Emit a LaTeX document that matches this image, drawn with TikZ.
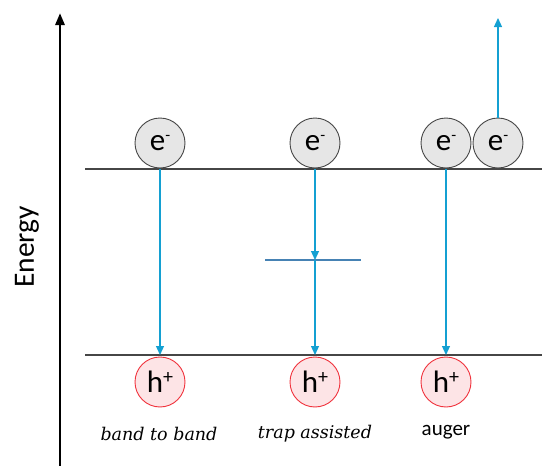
\documentclass[tikz,border=0pt]{standalone}
\usepackage{fontspec}
\setmainfont{Carlito}
\newfontfamily\labserif{DejaVu Serif}
\usetikzlibrary{arrows.meta}
\definecolor{arrowcyan}{RGB}{20,160,210}
\definecolor{trapblue}{RGB}{70,130,180}
\definecolor{bandgray}{RGB}{70,70,70}
\definecolor{efill}{RGB}{230,230,230}
\definecolor{hfill}{RGB}{253,228,230}
\definecolor{hborder}{RGB}{240,50,60}
\tikzset{
  electron/.style={circle, draw=bandgray, fill=efill, line width=0.9pt, minimum size=50pt, inner sep=0pt, font=\fontsize{31}{33}\selectfont},
  hole/.style={circle, draw=hborder, fill=hfill, line width=0.9pt, minimum size=50pt, inner sep=0pt, font=\fontsize{31}{33}\selectfont},
  band/.style={draw=bandgray, line width=1.1pt},
  trans/.style={draw=arrowcyan, line width=1.2pt, -{Triangle[length=9pt,width=8pt]}},
  caplabel/.style={font=\labserif\itshape\fontsize{17.5}{19}\selectfont},
}
\newcommand{\elec}{e\raisebox{0.35em}{\fontsize{16}{16}\selectfont -}}
\newcommand{\hol}{h\raisebox{0.3em}{\fontsize{20}{20}\selectfont +}}
\begin{document}
\begin{tikzpicture}[x=1pt,y=-1pt]
\useasboundingbox (0,0) rectangle (542,466);
% axis
\coordinate (axb) at (60,466);
\coordinate (axt) at (60,13);
\draw[line width=2.8pt, -{Triangle[length=12pt,width=9pt]}] (axb) -- (axt);
\node[rotate=90, font=\fontsize{29.5}{31}\selectfont] (energy) at (27,247) {Energy};
% bands
\coordinate (cbl) at (85,169);
\coordinate (cbr) at (542,169);
\coordinate (vbl) at (85,355);
\coordinate (vbr) at (542,355);
\draw[band] (cbl) -- (cbr);
\draw[band] (vbl) -- (vbr);
% trap level
\coordinate (tl) at (265,260);
\coordinate (tr) at (361,260);
\draw[draw=trapblue, line width=1.1pt] (tl) -- (tr);
% electrons
\node[electron] (e1) at (160,143) {\elec};
\node[electron] (e2) at (315,143) {\elec};
\node[electron] (e3) at (446,143) {\elec};
\node[electron] (e4) at (498,143) {\elec};
% holes
\node[hole] (h1) at (160,382) {\hol};
\node[hole] (h2) at (315,382) {\hol};
\node[hole] (h3) at (446,382) {\hol};
% transitions
\coordinate (c1) at (160,169);
\coordinate (c2) at (315,169);
\coordinate (c3) at (446,169);
\coordinate (v1) at (160,355);
\coordinate (v2) at (315,355);
\coordinate (v3) at (446,355);
\coordinate (t2) at (315,260);
\coordinate (up) at (498,18);
\draw[trans] (c1) -- (v1);
\draw[trans] (c2) -- (t2);
\draw[trans] (t2) -- (v2);
\draw[trans] (c3) -- (v3);
\draw[trans] (e4.north) -- (up);
% labels
\node[caplabel] (l1) at (159,434) {band to band};
\node[caplabel] (l2) at (315,434) {trap assisted};
\node[font=\fontsize{21}{23}\selectfont] (l3) at (446,432) {auger};
\end{tikzpicture}
\end{document}
